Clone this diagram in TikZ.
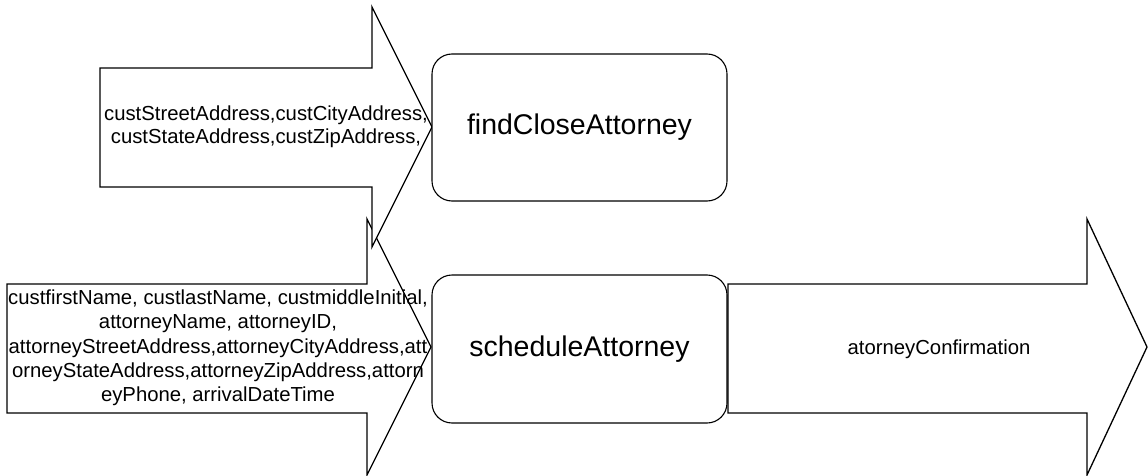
\documentclass[tikz,border=0pt]{standalone}
\usepackage{fontspec}
\setmainfont{Liberation Sans}
\begin{document}
\begin{tikzpicture}[x=1pt,y=-1pt,
  outline/.style={draw=black,line width=1.3pt,line join=miter,fill=white},
  procbox/.style={draw=black,line width=1.1pt,rounded corners=20pt,fill=white},
  flowtext/.style={inner sep=0pt,align=center,font=\fontsize{20.3}{23.5}\selectfont},
  proctext/.style={inner sep=0pt,font=\fontsize{28.5}{32}\selectfont}]
\useasboundingbox (0,0) rectangle (1148,476);
% lower-left input arrow
\draw[outline] (7,284) -- (367,284) -- (367,219) -- (431,347) -- (367,475) -- (367,413) -- (7,413) -- cycle;
\node[flowtext,font=\fontsize{20.3}{24.3}\selectfont] (inB) at (218,348) {custfirstName, custlastName, custmiddleInitial,\\attorneyName, attorneyID,\\attorneyStreetAddress,attorneyCityAddress,att\\orneyStateAddress,attorneyZipAddress,attorn\\eyPhone, arrivalDateTime};
% top input arrow
\draw[outline] (100,68) -- (372,68) -- (372,7) -- (432,127) -- (372,247) -- (372,187) -- (100,187) -- cycle;
\node[flowtext] (inA) at (266,127) {custStreetAddress,custCityAddress,\\custStateAddress,custZipAddress,};
% process boxes
\draw[procbox] (432,54) rectangle (727,201);
\node[proctext] (find) at (579.5,127) {findCloseAttorney};
\draw[procbox] (432,275) rectangle (727,423);
\node[proctext] (sched) at (579.5,349) {scheduleAttorney};
% output arrow
\draw[outline] (728,284) -- (1087,284) -- (1087,219) -- (1147,347) -- (1087,475) -- (1087,413) -- (728,413) -- cycle;
\node[flowtext] (out) at (939,349) {atorneyConfirmation};
\end{tikzpicture}
\end{document}
